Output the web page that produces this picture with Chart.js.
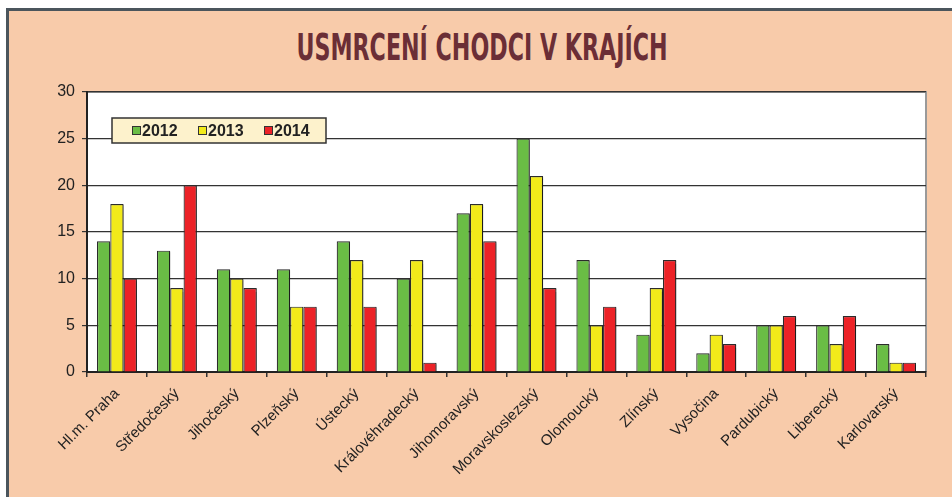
<!DOCTYPE html>
<html lang="cs">
<head>
<meta charset="utf-8">
<script src="https://cdn.jsdelivr.net/npm/chart.js@4.4.1/dist/chart.umd.min.js"></script>
<style>
    html, body { margin: 0; padding: 0; background: #fff; }
    body { width: 952px; height: 497px; position: relative; overflow: hidden; }
    .frame {
        position: absolute; left: 6px; top: 8px; right: -10px; bottom: -10px;
        background: #f8cbaa;
        border-top: 3px solid #4b555c;
        border-left: 3px solid #4b555c;
    }
    .title {
        position: absolute; left: 482px; top: 25px; margin: 0;
        white-space: nowrap;
        font-family: "DejaVu Sans Condensed", "DejaVu Sans", sans-serif;
        font-weight: bold; font-size: 38px; color: #6b2e36;
        transform-origin: 0 0;
    }
    canvas { position: absolute; left: 0; top: 0; }
</style>
</head>
<body>
<div class="frame"></div>
<h1 class="title" id="title">USMRCENÍ CHODCI V KRAJÍCH</h1>
<canvas id="chart" width="952" height="497"></canvas>
<script>
'use strict';

const regions = [
    "Hl.m. Praha", "Středočeský", "Jihočeský", "Plzeňský", "Ústecký",
    "Královéhradecký", "Jihomoravský", "Moravskoslezský", "Olomoucký",
    "Zlínský", "Vysočina", "Pardubický", "Liberecký", "Karlovarský"
];
const years = ["2012", "2013", "2014"];
const deaths2012 = [14, 13, 11, 11, 14, 10, 17, 25, 12, 4, 2, 5, 5, 3];
const deaths2013 = [18, 9, 10, 7, 12, 12, 18, 21, 5, 9, 4, 5, 3, 1];
const deaths2014 = [10, 20, 9, 7, 7, 1, 14, 9, 7, 12, 3, 6, 6, 1];
const yearColors = ["#6abd45", "#f2ea1a", "#ec2227"];

const series = [deaths2012, deaths2013, deaths2014];

// squeeze the title to the condensed width of the original
(function fitTitle() {
    const el = document.getElementById("title");
    const w = el.getBoundingClientRect().width;
    const k = 371 / w;
    el.style.transform = `translateX(${-371 / 2}px) scaleX(${k})`;
})();

// white plot area + bar shadows
const plotBackground = {
    id: "plotBackground",
    beforeDraw(chart) {
        const { ctx, chartArea: a } = chart;
        ctx.save();
        ctx.fillStyle = "#fff";
        ctx.fillRect(a.left, a.top, a.right - a.left, a.bottom - a.top);
        ctx.strokeStyle = "#9a9a9a";
        ctx.lineWidth = 2;
        ctx.beginPath();
        ctx.moveTo(a.left, a.top);
        ctx.lineTo(a.right, a.top);
        ctx.lineTo(a.right, a.bottom);
        ctx.stroke();
        ctx.restore();
    },
    beforeDatasetsDraw(chart) {
        const ctx = chart.ctx;
        ctx.save();
        ctx.shadowColor = "rgba(0,0,0,0.35)";
        ctx.shadowOffsetX = 2;
        ctx.shadowOffsetY = 1;
        ctx.shadowBlur = 1;
    },
    afterDatasetsDraw(chart) {
        chart.ctx.restore();
    }
};

// legend box inside the plot, top left
const boxLegend = {
    id: "boxLegend",
    afterDraw(chart) {
        const ctx = chart.ctx;
        const x = 112, y = 118, w = 214, h = 25;
        ctx.save();
        ctx.fillStyle = "#fdf2cc";
        ctx.fillRect(x, y, w, h);
        ctx.strokeStyle = "#333";
        ctx.lineWidth = 1.5;
        ctx.strokeRect(x, y, w, h);
        ctx.font = "bold 16px 'Liberation Sans', Arial, sans-serif";
        ctx.textBaseline = "middle";
        chart.data.datasets.forEach((ds, i) => {
            const sx = 132 + i * 66;
            ctx.fillStyle = ds.backgroundColor;
            ctx.fillRect(sx, y + 8.5, 8, 8);
            ctx.strokeStyle = "#333";
            ctx.lineWidth = 1;
            ctx.strokeRect(sx + 0.5, y + 8.5, 8, 8);
            ctx.fillStyle = "#222";
            ctx.fillText(ds.label, sx + 10, y + h / 2 + 1);
        });
        ctx.restore();
    }
};

new Chart(document.getElementById("chart"), {
    type: "bar",
    data: {
        labels: regions,
        datasets: years.map((year, i) => ({
            label: year,
            data: series[i],
            backgroundColor: yearColors[i],
            borderColor: "#2b2b2b",
            borderWidth: 1.2,
            borderSkipped: "bottom",
            categoryPercentage: 0.667,
            barPercentage: 1.0
        }))
    },
    options: {
        responsive: false,
        animation: false,
        layout: { padding: { top: 92, right: 26, left: 0, bottom: 0 } },
        plugins: {
            legend: { display: false },
            tooltip: { enabled: false }
        },
        scales: {
            x: {
                afterFit(scale) { scale.height = 125; },
                grid: {
                    offset: true,
                    drawOnChartArea: false,
                    color: "#333",
                    lineWidth: 1.5,
                    tickLength: 5
                },
                border: { color: "#222", width: 2 },
                ticks: {
                    autoSkip: false,
                    minRotation: 45,
                    maxRotation: 45,
                    padding: 8,
                    color: "#222",
                    font: { family: "'Liberation Sans', Arial, sans-serif", size: 15 }
                }
            },
            y: {
                min: 0,
                max: 30,
                afterFit(scale) { scale.width = 87; },
                grid: {
                    color: "#333",
                    lineWidth: 1.2,
                    tickLength: 5
                },
                border: { color: "#222", width: 2 },
                ticks: {
                    stepSize: 5,
                    padding: 7,
                    color: "#222",
                    font: { family: "'Liberation Sans', Arial, sans-serif", size: 16 }
                }
            }
        }
    },
    plugins: [plotBackground, boxLegend]
});
</script>
</body>
</html>
